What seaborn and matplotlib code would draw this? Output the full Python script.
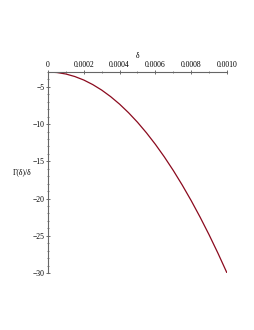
import matplotlib
matplotlib.use("Agg")
import matplotlib.pyplot as plt
from matplotlib.ticker import MultipleLocator, FuncFormatter
import seaborn as sns
import pandas as pd

# valores
delta = [0.0, 0.00005, 0.0001, 0.00015, 0.0002, 0.00025, 0.0003, 0.00035, 0.0004,
         0.00045, 0.0005, 0.00055, 0.0006, 0.00065, 0.0007, 0.00075, 0.0008,
         0.00085, 0.0009, 0.00095, 0.001]
gamma_ratio = [-3.00, -3.07, -3.27, -3.61, -4.08, -4.69, -5.43, -6.31, -7.32,
               -8.47, -9.75, -11.17, -12.72, -14.41, -16.23, -18.19, -20.28,
               -22.51, -24.87, -27.37, -30.00]
xticks = [0, 0.0002, 0.0004, 0.0006, 0.0008, 0.0010]
xtick_labels = ["0", "0.0002", "0.0004", "0.0006", "0.0008", "0.0010"]
yticks = [-5, -10, -15, -20, -25, -30]

df = pd.DataFrame({"delta": delta, "ratio": gamma_ratio})

sns.set_style("white")
plt.rcParams["font.family"] = ["Liberation Serif", "DejaVu Serif"]

fig = plt.figure(figsize=(2.55, 3.3), dpi=100)
ax = fig.add_axes([48 / 255, 1 - 273 / 330, 179 / 255, 201 / 330])

sns.lineplot(data=df, x="delta", y="ratio", color="#8b0a1e", linewidth=0.9, ax=ax)

ax.set_xlim(0, 0.001)
ax.set_ylim(-30, -3)

for s in ["bottom", "right"]:
    ax.spines[s].set_visible(False)
for s in ["top", "left"]:
    ax.spines[s].set_color("#666666")
    ax.spines[s].set_linewidth(0.8)

ax.xaxis.tick_top()
ax.xaxis.set_label_position("top")
ax.set_xticks(xticks)
ax.set_xticklabels(xtick_labels)
ax.xaxis.set_minor_locator(MultipleLocator(0.0001))
ax.set_yticks(yticks)
ax.yaxis.set_minor_locator(MultipleLocator(1))
ax.yaxis.set_major_formatter(FuncFormatter(lambda v, p: "\u2212%d" % abs(v)))

ax.tick_params(axis="both", which="major", length=3, width=0.6, color="#555555",
               labelsize=5.5, pad=1, direction="inout", labelcolor="black")
ax.tick_params(axis="both", which="minor", length=2, width=0.5, color="#555555",
               direction="inout")
ax.tick_params(axis="x", which="both", top=True, bottom=False)
ax.tick_params(axis="y", which="both", left=True, right=False)

ax.set_xlabel("\u03b4", fontsize=5.5, labelpad=2, color="black")
ax.set_ylabel("\u0393(\u03b4)/\u03b4", fontsize=5.5, rotation=0, color="black")
ax.yaxis.set_label_coords(-0.145, 0.48)

fig.savefig("out.png", dpi=100)
